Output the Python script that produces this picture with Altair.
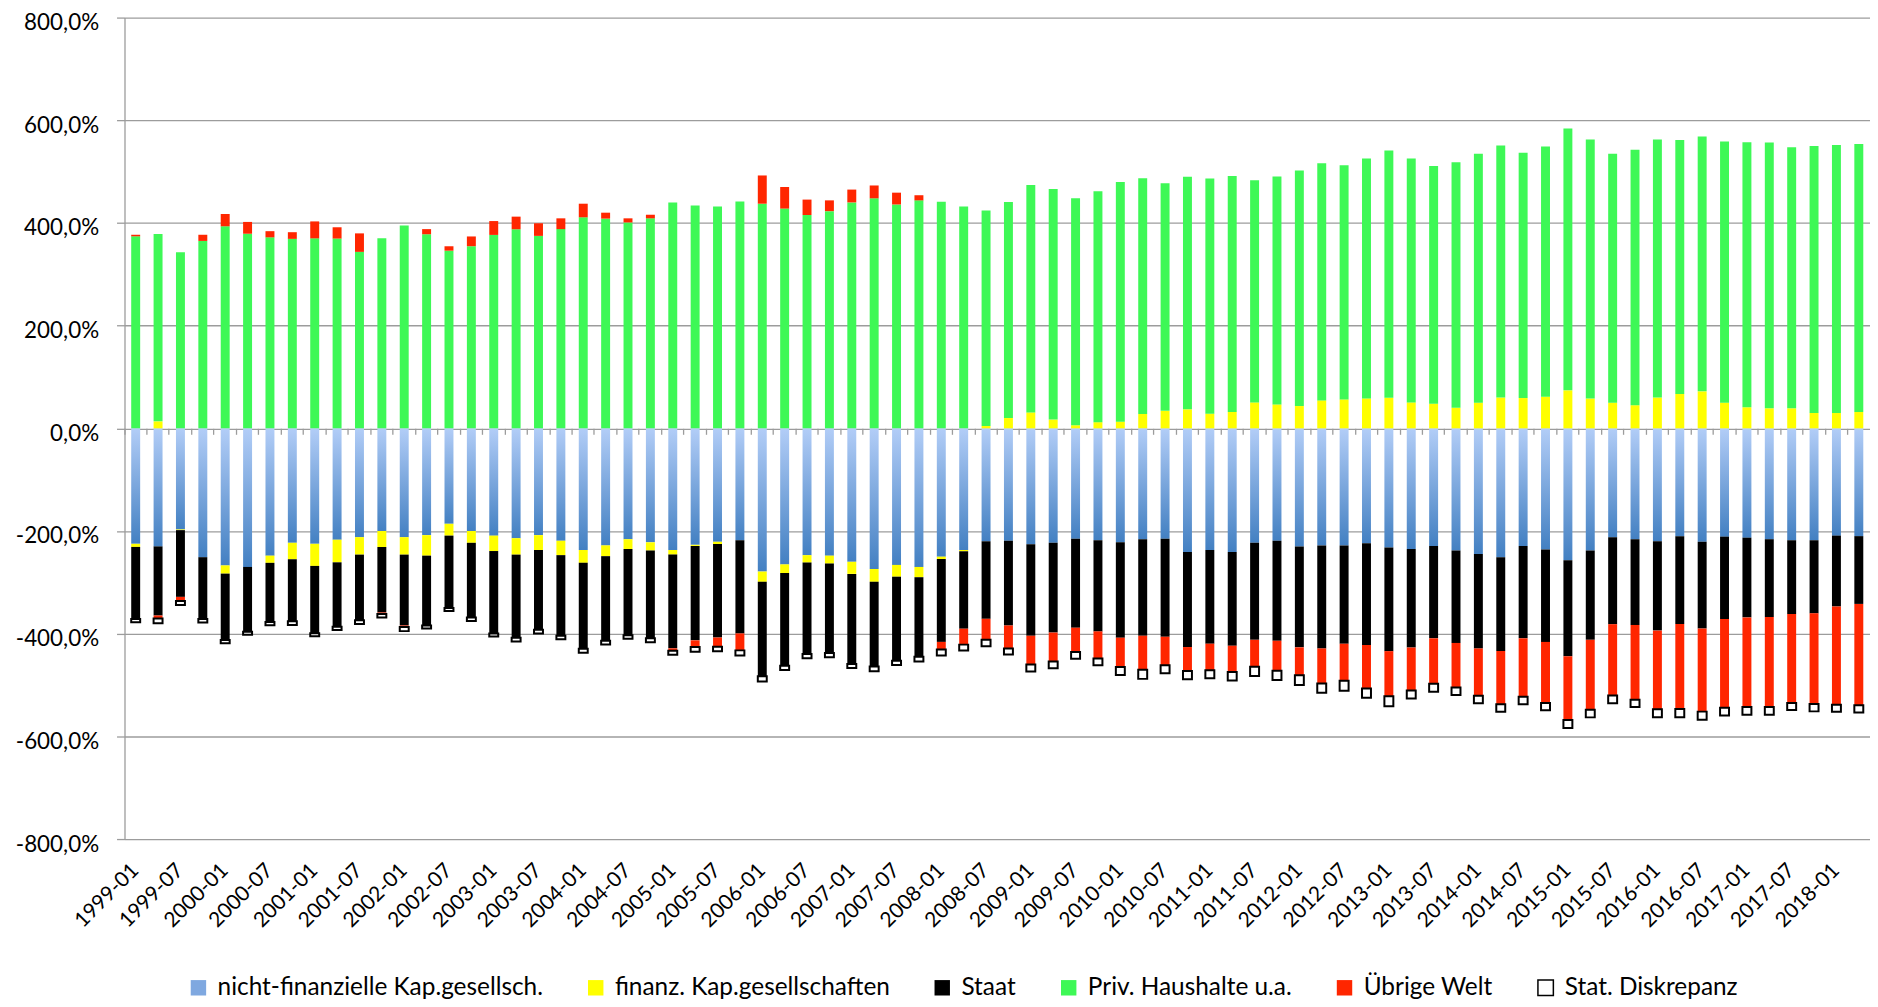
import altair as alt
import pandas as pd

# ---------------- data ----------------
years = list(range(1999, 2019))
quarter_months = ["01", "04", "07", "10"]
periods = [f"{y}-{m}" for y in years for m in quarter_months][:78]

series_names = [
    "nicht-finanzielle Kap.gesellsch.",
    "finanz. Kap.gesellschaften",
    "Staat",
    "Priv. Haushalte u.a.",
    "Übrige Welt",
    "Stat. Diskrepanz",
]

nfk = [-225, -230, -197, -251, -267, -270, -248, -223, -225, -217,
       -212, -200, -212, -208, -186, -200, -209, -214, -208, -219,
       -237, -228, -216, -222, -237, -227, -221, -218, -279, -265,
       -247, -248, -260, -274, -266, -270, -250, -237, -220, -219,
       -226, -223, -215, -218, -222, -216, -215, -241, -237, -241,
       -223, -219, -230, -228, -228, -224, -232, -235, -229, -238,
       -245, -251, -229, -236, -257, -238, -212, -216, -220, -210,
       -221, -211, -213, -216, -218, -218, -209, -210]

fk = [-6, 13.6, -1.3, 0, -16, 0, -14, -32, -43, -44,
      -34, -31, -34, -40, -23, -23, -30, -32, -29, -28,
      -25, -21, -19, -16, -9, -2, -4.5, 0, -20, -17,
      -14.5, -15.5, -23.5, -25, -23, -20, -4.5, -2.5, 4.5, 20,
      31, 17, 6, 12, 13, 28, 34, 37, 28.5, 32,
      50.5, 46.6, 43.4, 54.4, 56.3, 58.3, 59.5, 50.5, 48, 40,
      50, 60, 59, 61.5, 74, 58, 50, 45, 60, 67,
      72, 50, 41, 39, 39, 30, 30, 32]

staat = [-140.5, -134.6, -130, -120.5, -129.5, -126, -115, -121, -131, -125.5,
         -128, -127.6, -138, -136, -141, -145.6, -160.5, -162, -155.5, -157,
         -167.5, -164.6, -168, -171, -182.5, -184, -182, -181.5, -184, -180.6,
         -178, -174, -175.5, -165, -163.7, -155, -161.5, -150.8, -151, -165,
         -178, -174.8, -173.4, -177.5, -185.8, -188, -191, -185, -182.5, -182.5,
         -189, -194.8, -196.6, -200.7, -191.6, -198, -202, -192, -180, -180,
         -183.8, -182.7, -180, -180, -187, -174, -169.5, -167, -174, -171,
         -169, -160.5, -155.3, -151.5, -143.7, -142.4, -138, -132]

phh = [374, 365, 343, 365, 393.5, 379, 372, 369, 370, 369.6,
       343.7, 370, 395, 378, 346, 354.7, 376.7, 387.7, 374.8, 388,
       411, 408.4, 401, 409, 440, 434, 432, 442, 437.5, 428,
       415.5, 423, 440, 448, 436, 444, 441.4, 432, 420, 420.8,
       442.8, 449.2, 442.2, 449.8, 467, 459.2, 443.3, 453, 458.2, 459.3,
       432.5, 444, 458.6, 462.1, 456.3, 467.3, 481.5, 475.1, 462.7, 478.4,
       485, 490.8, 477.6, 487.4, 509.8, 504.5, 484.6, 497.4, 502.5, 494.8,
       496.3, 508.6, 516.3, 517.6, 508.6, 520, 522, 522]

uew = [3, -6, -8, 12, 24, 23, 12, 13, 33, 22,
       36, -3, -3, 10, 8.6, 19, 27, 24.6, 24.6, 21,
       26.5, 11.6, 8, 7, -4.5, -13, -18, -33, 55, 42,
       30, 21, 25, 25, 23, 10, -15, -31, -40.6, -45,
       -56, -56.3, -47.3, -53, -57, -66, -55.7, -46.6, -51.8, -51,
       -52.4, -58.2, -54.4, -68.5, -72, -84.8, -88, -83.7, -88.7, -86.7,
       -92, -103.5, -114, -119, -124, -136, -139, -145.6, -153.4, -165.7,
       -161.8, -172.8, -174.7, -175.4, -173.4, -176.7, -191.5, -197.4]

disk = [-6, -9, -8, -6.5, -6, -6, -6.5, -7, -6, -6.5,
        -7, -7, -8, -6, -6, -6.5, -6, -7, -7, -7,
        -7.8, -7.5, -7, -7.8, -8, -9, -8.6, -10, -10, -8,
        -8.5, -8.5, -8, -9, -8.4, -9, -11.7, -11.6, -13, -11.6,
        -13.6, -13, -13, -13, -15.5, -18, -15.5, -16, -15.5, -16.7,
        -18, -18, -18.8, -18, -19.4, -18, -19.4, -15.5, -15.5, -14.9,
        -14.9, -15, -14.2, -14.2, -15.5, -15, -15, -14.2, -15.5, -16,
        -16, -15, -15, -15, -13.6, -14.2, -13.6, -14.2]

y_ticks = [-800, -600, -400, -200, 0, 200, 400, 600, 800]

all_series = [nfk, fk, staat, phh, uew, disk]
rows = []
for i, p in enumerate(periods):
    for k, (name, vals) in enumerate(zip(series_names, all_series)):
        rows.append({"period": p, "series": name, "value": vals[i], "order": k})
df = pd.DataFrame(rows)

# ---------------- styling ----------------
W, H = 1753, 825
GRID = "#9C9C9C"
FONT = "Lato"
fill_colors = ["#7FA8E0", "#FFFF00", "#000000", "#3EF856", "#FF2600", "#FFFFFF"]
stroke_colors = ["transparent", "transparent", "transparent", "transparent", "transparent", "#000000"]

base = alt.Chart(df).transform_stack(
    stack="value",
    groupby=["period"],
    as_=["v0", "v1"],
    sort=[alt.SortField("order", order="ascending")],
    offset="zero",
)

x_scale = alt.Scale(paddingInner=0, paddingOuter=0)

x_labels = alt.X(
    "period:N", sort=periods, scale=x_scale,
    axis=alt.Axis(
        orient="bottom", values=periods[::2], labelAngle=315, labelAlign="right",
        labelBaseline="middle", labelFont=FONT, labelFontSize=21, labelColor="black",
        labelPadding=28, ticks=False, tickSize=0, domain=False, grid=False, title=None,
        labelOverlap=False, labelBound=False,
    ),
)

x_ticks = alt.X(
    "period:N", sort=periods, scale=x_scale,
    axis=alt.Axis(
        orient="bottom", offset=-H / 2, labels=False, ticks=True, tickSize=6,
        tickColor=GRID, tickWidth=1.3, domain=False, grid=False, title=None,
        bandPosition=0,
    ),
)

y_enc = alt.Y(
    "v0:Q",
    scale=alt.Scale(domain=[-800, 800], nice=False, zero=False),
    axis=alt.Axis(
        values=y_ticks, labelExpr="datum.value + ',0%'", title=None,
        grid=True, gridColor=GRID, gridWidth=1.3,
        domain=True, domainColor=GRID, domainWidth=1.3,
        ticks=True, tickSize=8, tickColor=GRID, tickWidth=1.3,
        labelFont=FONT, labelFontSize=22.5, labelColor="black", labelPadding=18,
        labelOffset=5,
    ),
)

legend = alt.Legend(
    title=None, orient="none", legendX=62, legendY=962, direction="horizontal",
    symbolType="square", symbolSize=240, symbolStrokeWidth=1.5,
    labelFont=FONT, labelFontSize=24.5, labelColor="black", labelOffset=7,
    columnPadding=40, labelLimit=500,
)

blue_layer = base.transform_filter(alt.datum.series == series_names[0]).mark_bar(
    width=alt.RelativeBandSize(0.4),
    fill=alt.Gradient(
        gradient="linear",
        stops=[alt.GradientStop(color="#B2CDF7", offset=0),
               alt.GradientStop(color="#4380C2", offset=1)],
        x1=0, x2=0, y1=0, y2=1,
    ),
).encode(x=x_ticks, y=y_enc, y2="v1:Q")

other_layer = base.transform_filter(alt.datum.series != series_names[0]).mark_bar(
    width=alt.RelativeBandSize(0.4), strokeWidth=2,
).encode(
    x=x_labels, y=y_enc, y2="v1:Q",
    fill=alt.Fill("series:N", scale=alt.Scale(domain=series_names, range=fill_colors), legend=legend),
    stroke=alt.Stroke("series:N", scale=alt.Scale(domain=series_names, range=stroke_colors), legend=legend),
)

chart = alt.layer(blue_layer, other_layer).resolve_axis(x="independent").properties(
    width=W, height=H,
    autosize=alt.AutoSizeParams(type="none"),
    padding={"left": 117, "top": 7.5, "right": 0, "bottom": 158.5},
).configure_view(stroke=None)

chart.save("out.html", embed_options={"renderer": "svg", "actions": False})
